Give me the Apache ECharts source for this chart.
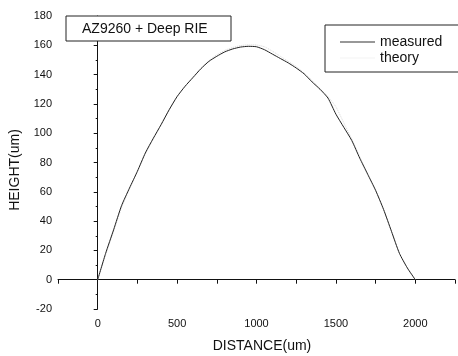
<!DOCTYPE html>
<html>
<head>
<meta charset="utf-8">
<script src="https://cdn.jsdelivr.net/npm/echarts@6/dist/echarts.min.js"></script>
<style>
html,body{margin:0;padding:0;background:#fff;}
#c{width:458px;height:356px;}
</style>
</head>
<body>
<div id="c"></div>
<script>
// Data
var distance = [0,50,100,150,200,250,300,350,400,450,500,550,600,650,700,750,800,850,900,950,1000,1050,1100,1150,1200,1250,1300,1350,1400,1450,1500,1550,1600,1650,1700,1750,1800,1850,1900,1950,2000];
var measured = [0,18,34,50.5,62.5,74,86.5,96.5,106,116,125,132,138,144,149,152.5,155.5,157.5,158.8,159.3,159,157,154,151,148,144.5,140.5,135,130,124,113,104,95,83,72,61,48,33,18,8,0];
var theory   = [0,17,33,49,62,74,86,96,106,116,125,132,138.5,144.5,149.5,153.5,156.5,158.5,159.8,160.3,160.2,159,156,152.5,149,145.5,141,136,130.5,125,118,107,96,84,72.5,61,48,33,18,8,0];
var xTicks = {min: -250, max: 2250, step: 250, labelStep: 500};
var yTicks = {min: -20, max: 180, step: 20};
var titleText = 'AZ9260 + Deep RIE';
var xName = 'DISTANCE(um)';
var yName = 'HEIGHT(um)';

var font = '"Liberation Sans", Arial, sans-serif';
function pairs(xs, ys){ return xs.map(function(x,i){ return [x, ys[i]]; }); }

var chart = echarts.init(document.getElementById('c'), null, {renderer:'canvas'});
chart.setOption({
  animation: false,
  backgroundColor: '#fff',
  grid: {left: 58, top: 16, width: 402, height: 293, containLabel: false},
  xAxis: {
    type: 'value', min: xTicks.min, max: xTicks.max, interval: xTicks.step,
    axisLine: {lineStyle: {color: '#111', width: 1}},
    axisTick: {show: true, length: 4, lineStyle: {color: '#111'}},
    splitLine: {show: false},
    axisLabel: {
      color: '#111', fontFamily: font, fontSize: 11, margin: 9,
      formatter: function(v){ return (v % xTicks.labelStep === 0 && v >= 0 && v <= 2000) ? String(v) : ''; }
    }
  },
  yAxis: {
    type: 'value', min: yTicks.min, max: yTicks.max, interval: yTicks.step,
    axisLine: {show: true, lineStyle: {color: '#111', width: 1}},
    axisTick: {show: true, length: 4, lineStyle: {color: '#111'}},
    minorTick: {show: true, splitNumber: 2, length: 2, lineStyle: {color: '#111'}},
    splitLine: {show: false},
    axisLabel: {color: '#111', fontFamily: font, fontSize: 11, margin: 6}
  },
  legend: {
    orient: 'vertical', left: 340, top: 35, padding: 0,
    icon: 'rect', itemWidth: 35, itemHeight: 1, itemGap: 2,
    textStyle: {color: '#111', fontFamily: font, fontSize: 14},
    data: [
      {name: 'measured', itemStyle: {color: '#333'}},
      {name: 'theory', itemStyle: {color: '#f4f4f4'}}
    ]
  },
  series: [
    {name: 'measured', type: 'line', data: pairs(distance, measured), symbol: 'none', smooth: 0.2,
     lineStyle: {color: '#222', width: 1}, itemStyle: {color: '#222'}, z: 3},
    {name: 'theory', type: 'line', data: pairs(distance, theory), symbol: 'none', smooth: 0.2,
     lineStyle: {color: '#d8d8d8', width: 1, type: 'dotted'}, itemStyle: {color: '#d8d8d8'}, z: 2}
  ],
  graphic: [
    {type: 'rect', shape: {x: 66, y: 16, width: 165, height: 25},
     style: {fill: '#fff', stroke: '#222', lineWidth: 1}, z: 10},
    {type: 'text', x: 82, y: 29, z: 11,
     style: {text: titleText, fill: '#111', font: '14px ' + font, textAlign: 'left', textVerticalAlign: 'middle'}},
    {type: 'rect', shape: {x: 325, y: 25, width: 140, height: 47},
     style: {fill: 'none', stroke: '#222', lineWidth: 1}, z: 10},
    {type: 'text', x: 262, y: 346, z: 11,
     style: {text: xName, fill: '#111', font: '14px ' + font, textAlign: 'center', textVerticalAlign: 'middle'}},
    {type: 'text', x: 15, y: 170, rotation: Math.PI / 2, z: 11,
     style: {text: yName, fill: '#111', font: '14px ' + font, textAlign: 'center', textVerticalAlign: 'middle'}}
  ]
});
</script>
</body>
</html>
